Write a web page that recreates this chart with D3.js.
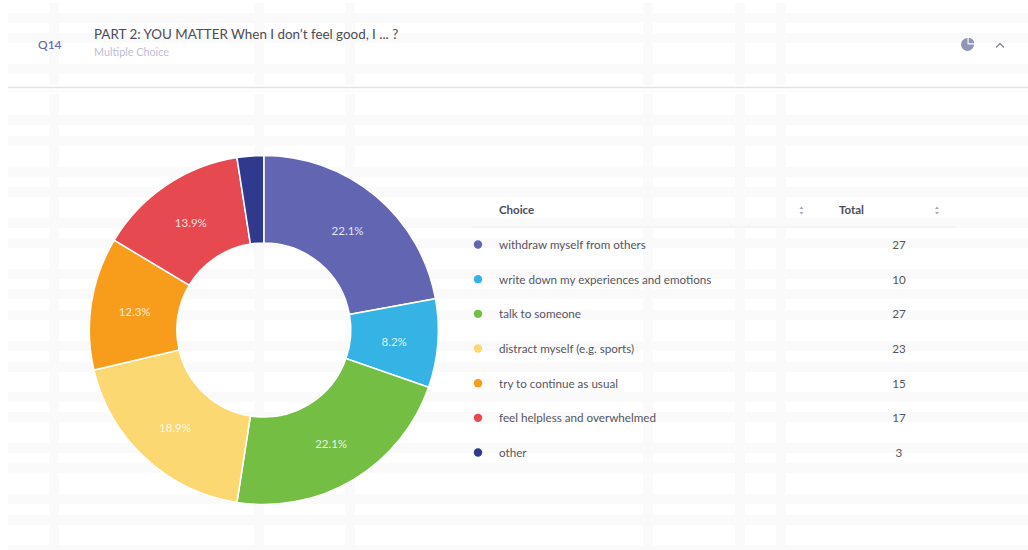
<!DOCTYPE html>
<html>
<head>
<meta charset="utf-8">
<style>
html,body{margin:0;padding:0;background:#fff;}
svg{display:block;}
text{font-family:Lato,"Open Sans",sans-serif;}
</style>
<script src="https://cdn.jsdelivr.net/npm/d3@7/dist/d3.min.js"></script>
</head>
<body>
<svg id="chart" width="1028" height="550"></svg>
<script>
// Survey answers
const questionId = "Q14";
const questionTitle = "PART 2: YOU MATTER When I don\u2019t feel good, I ... ?";
const questionType = "Multiple Choice";
const choices = [
  "withdraw myself from others",
  "write down my experiences and emotions",
  "talk to someone",
  "distract myself (e.g. sports)",
  "try to continue as usual",
  "feel helpless and overwhelmed",
  "other"
];
const totals = [27, 10, 27, 23, 15, 17, 3];
const colours = ["#6266B2", "#35B3E5", "#74BF43", "#FBD872", "#F89C1C", "#E6494F", "#2F3A8F"];
const tableHeaders = ["Choice", "Total"];

// Pale page texture: a lattice of horizontal and vertical stripes
const stripeRows = [13, 33, 64, 115, 136, 167, 187, 218, 238, 269, 289, 310, 341, 362, 392, 412, 443, 463, 494, 515, 545];
const stripeColumns = [49, 254, 345, 643, 735, 776];

const svg = d3.select("#chart");
const texture = svg.append("g").attr("fill", "#fafafa");
texture.selectAll("rect.row").data(stripeRows).join("rect")
  .attr("class", "row").attr("x", 8).attr("width", 1020)
  .attr("y", d => d).attr("height", 10);
texture.selectAll("rect.column").data(stripeColumns).join("rect")
  .attr("class", "column").attr("y", 3).attr("height", 547)
  .attr("x", d => d).attr("width", 10);
// The lattice pauses around the header rule
svg.append("rect").attr("x", 0).attr("y", 85).attr("width", 1028).attr("height", 9).attr("fill", "#fff");
svg.append("rect").attr("x", 8).attr("y", 90.5).attr("width", 1020).attr("height", 1.5).attr("fill", "#fafafa");

// Question header
svg.append("text").attr("x", 38).attr("y", 49).attr("font-size", 12)
  .attr("font-weight", 500).attr("fill", "#5F65A8").text(questionId);
svg.append("text").attr("x", 94).attr("y", 39).attr("font-size", 13.4)
  .attr("fill", "#4C4C58").text(questionTitle);
svg.append("text").attr("x", 94).attr("y", 56).attr("font-size", 10.8)
  .attr("fill", "#BDBDD6").text(questionType);
svg.append("line").attr("x1", 8).attr("x2", 1028).attr("y1", 87.5).attr("y2", 87.5)
  .attr("stroke", "#E3E3E6").attr("stroke-width", 1.5);

// Chart-type icon and collapse chevron
const icon = svg.append("g").attr("transform", "translate(967.5,44.5)").attr("fill", "#8E95B5");
icon.append("path").attr("d", d3.arc()({innerRadius: 0, outerRadius: 6.5, startAngle: Math.PI * 0.5, endAngle: Math.PI * 2}));
icon.append("path").attr("transform", "translate(1.2,-1.2)")
  .attr("d", d3.arc()({innerRadius: 0, outerRadius: 5.5, startAngle: 0, endAngle: Math.PI * 0.5}));
svg.append("path").attr("d", d3.line()([[996, 47.5], [1000, 43.5], [1004, 47.5]]))
  .attr("fill", "none").attr("stroke", "#8A8A98").attr("stroke-width", 1.5);

// Donut
const cx = 263.8, cy = 330;
const pie = d3.pie().sort(null)(totals);
const arc = d3.arc().innerRadius(87).outerRadius(174.5);
const sum = d3.sum(totals);
const donut = svg.append("g").attr("transform", `translate(${cx},${cy})`);
donut.selectAll("path").data(pie).join("path")
  .attr("d", arc)
  .attr("fill", (d, i) => colours[i])
  .attr("stroke", "#fff").attr("stroke-width", 1.5);
donut.selectAll("text").data(pie.filter(d => d.value / sum > 0.05)).join("text")
  .attr("transform", d => `translate(${arc.centroid(d)})`)
  .attr("text-anchor", "middle").attr("dy", "0.5em")
  .attr("font-size", 11.5).attr("fill", "#fff").attr("fill-opacity", 0.85)
  .text(d => (d.value / sum * 100).toFixed(1) + "%");

// Results table
const rowY = d3.scalePoint().domain(choices).range([245, 453]);
const table = svg.append("g");
table.append("text").attr("x", 499).attr("y", 213.5).attr("font-size", 11.5)
  .attr("font-weight", 700).attr("fill", "#4C4C58").text(tableHeaders[0]);
table.append("text").attr("x", 839).attr("y", 213.5).attr("font-size", 11.5)
  .attr("font-weight", 700).attr("fill", "#4C4C58").text(tableHeaders[1]);
[801.5, 937].forEach(x => {
  const s = table.append("g").attr("fill", "#A8A8B4");
  s.append("path").attr("d", d3.line()([[x - 2, 209], [x, 206.5], [x + 2, 209]]));
  s.append("path").attr("d", d3.line()([[x - 2, 212], [x, 214.5], [x + 2, 212]]));
});
table.append("line").attr("x1", 472).attr("x2", 957).attr("y1", 227).attr("y2", 227)
  .attr("stroke", "#EFEFF1").attr("stroke-width", 1);

const rows = table.selectAll("g.row").data(choices).join("g")
  .attr("class", "row")
  .attr("transform", d => `translate(0,${rowY(d)})`);
rows.append("circle").attr("cx", 478).attr("cy", -0.5).attr("r", 4.2).attr("fill", (d, i) => colours[i]);
rows.append("text").attr("x", 499).attr("dy", "0.35em").attr("font-size", 11.65)
  .attr("fill", "#55555F").text(d => d);
rows.append("text").attr("x", 899).attr("dy", "0.35em").attr("text-anchor", "middle")
  .attr("font-size", 11.65).attr("fill", "#55555F").text((d, i) => totals[i]);
</script>
</body>
</html>
